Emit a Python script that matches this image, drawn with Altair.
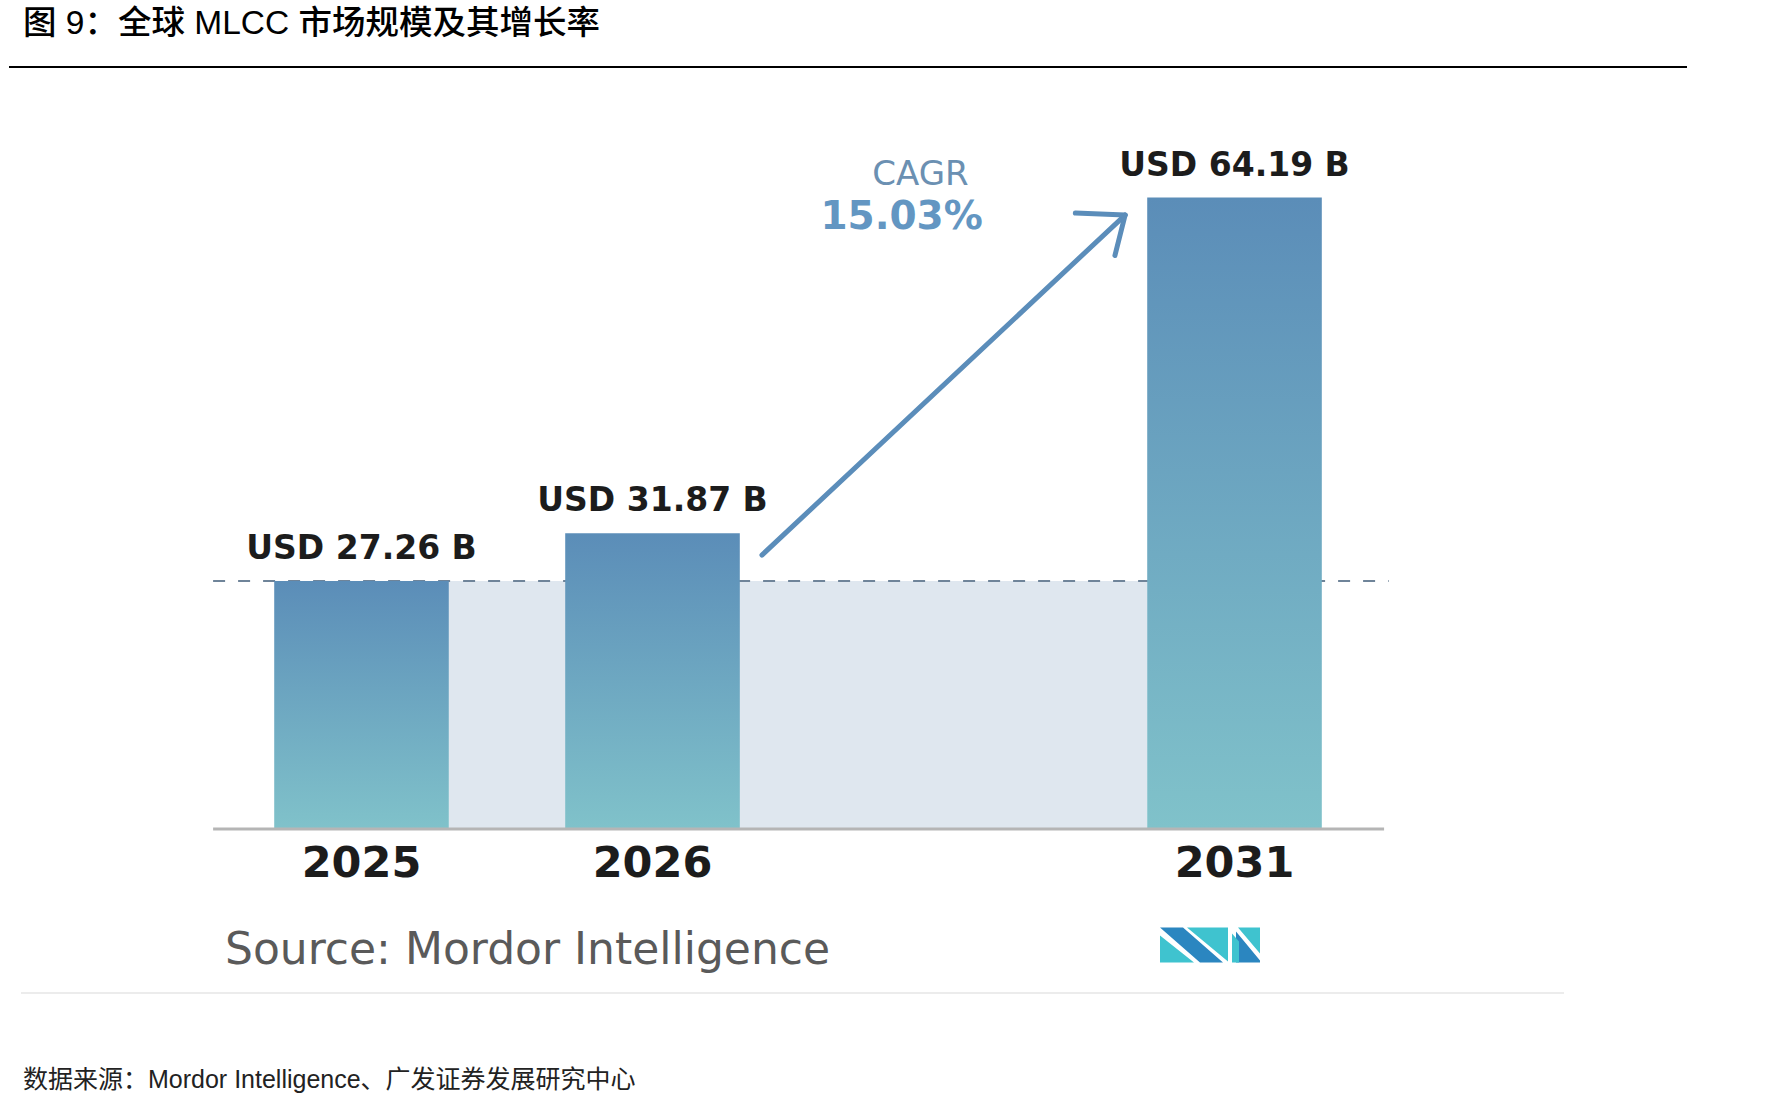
import altair as alt
import pandas as pd

# ---------------- data ----------------
years = ["2025", "2026", "2031"]
values = [27.26, 31.87, 64.19]          # USD billions
slots = [0, 1, 3]                        # layout slot of each bar (2026→2031 gap is wider)
cagr_title = "CAGR"
cagr_value = "15.03%"
title_text = "图 9：全球 MLCC 市场规模及其增长率"
source_text = "Source: Mordor Intelligence"
footer_text = "数据来源：Mordor Intelligence、广发证券发展研究中心"

# arrow annotation (slot units, value units)
arrow_tail = (1.376, 29.76)
arrow_tip = (2.624, 62.50)
arrow_head_a = (2.453, 62.69)
arrow_head_b = (2.589, 58.60)
cagr_pos = (1.921, 66.4)
cagr_val_pos = (1.856, 62.3)

# ---------------- layout constants ----------------
W, H = 1790, 1109
X_DOMAIN = [-1.2423, 4.9089]
Y_DOMAIN = [-23.58, 83.21]
BASE = 3.38            # value at the drawn baseline
HALF = 0.30            # half bar width in slot units
AXIS_LEFT, AXIS_RIGHT = -0.51, 3.514
DASH_RIGHT = 3.53

df = pd.DataFrame({
    "year": years,
    "value": values,
    "slot": slots,
})
df["left"] = df["slot"] - HALF
df["right"] = df["slot"] + HALF
df["label"] = ["USD %.2f B" % v for v in values]
df["base"] = BASE

xs = alt.Scale(domain=X_DOMAIN, nice=False, zero=False)
ys = alt.Scale(domain=Y_DOMAIN, nice=False, zero=False)

def X(field):
    return alt.X(field, type="quantitative", scale=xs, axis=None)

def Y(field):
    return alt.Y(field, type="quantitative", scale=ys, axis=None)

# light band between 2025 and 2031 up to the 2025 level
band_df = pd.DataFrame({"x": [slots[0] + HALF], "x2": [slots[2] - HALF],
                        "y": [values[0]], "y2": [BASE]})
band = alt.Chart(band_df).mark_rect(color="#dfe7ef").encode(
    x=X("x"), x2="x2", y=Y("y"), y2="y2")

# dashed reference line at the 2025 level
dash_df = pd.DataFrame({"x": [AXIS_LEFT], "x2": [DASH_RIGHT], "y": [values[0]]})
dash = alt.Chart(dash_df).mark_rule(color="#6f8499", strokeWidth=2, strokeDash=[12, 13]).encode(
    x=X("x"), x2="x2", y=Y("y"))

grad = alt.LinearGradient(
    gradient="linear",
    stops=[alt.GradientStop(color="#5b8db8", offset=0),
           alt.GradientStop(color="#80c2ca", offset=1)],
    x1=0, x2=0, y1=0, y2=1)

bars = alt.Chart(df).mark_bar(color=grad).encode(
    x=X("left"), x2="right", y=Y("value"), y2="base")

# baseline
base_df = pd.DataFrame({"x": [AXIS_LEFT], "x2": [AXIS_RIGHT], "y": [BASE]})
baseline = alt.Chart(base_df).mark_rule(color="#b5b5b5", strokeWidth=3).encode(
    x=X("x"), x2="x2", y=Y("y"))

value_labels = alt.Chart(df).mark_text(
    font="DejaVu Sans", fontWeight="bold", fontSize=33, color="#1c1c1c",
    baseline="middle", dy=-32).encode(x=X("slot"), y=Y("value"), text="label:N")

year_labels = alt.Chart(df).mark_text(
    font="DejaVu Sans", fontWeight="bold", fontSize=43, color="#1c1c1c",
    baseline="middle").encode(x=X("slot"), y=alt.value(864), text="year:N")

# arrow
seg_df = pd.DataFrame({
    "x": [arrow_tail[0], arrow_head_a[0], arrow_head_b[0]],
    "y": [arrow_tail[1], arrow_head_a[1], arrow_head_b[1]],
    "x2": [arrow_tip[0]] * 3,
    "y2": [arrow_tip[1]] * 3,
})
arrow = alt.Chart(seg_df).mark_rule(color="#5b8dba", strokeWidth=5, strokeCap="round").encode(
    x=X("x"), x2="x2", y=Y("y"), y2="y2")

cagr_df = pd.DataFrame({"x": [cagr_pos[0], cagr_val_pos[0]],
                        "y": [cagr_pos[1], cagr_val_pos[1]],
                        "t": [cagr_title, cagr_value],
                        "k": ["a", "b"]})
cagr_t = alt.Chart(cagr_df[cagr_df.k == "a"]).mark_text(
    font="DejaVu Sans", fontSize=34, color="#6b90b2", baseline="middle").encode(
    x=X("x"), y=Y("y"), text="t:N")
cagr_v = alt.Chart(cagr_df[cagr_df.k == "b"]).mark_text(
    font="DejaVu Sans", fontWeight="bold", fontSize=39, color="#6396c2", baseline="middle").encode(
    x=X("x"), y=Y("y"), text="t:N")

one = pd.DataFrame({"t": [0]})

source = alt.Chart(one).mark_text(
    text=source_text, font="DejaVu Sans", fontSize=44, color="#5a5a5a",
    align="left", baseline="middle").encode(x=alt.value(225), y=alt.value(951))

# logo (custom symbol paths, unit box -1..1 = 100px)
def poly(pts):
    s = []
    for i, (lx, ly) in enumerate(pts):
        s.append(("M" if i == 0 else "L") + "%.3f,%.3f" % ((lx - 50) / 50, (ly - 17.5) / 50))
    return " ".join(s) + " Z"

dark_path = " ".join([poly([(0, 0), (23, 0), (63, 35), (40, 35)]),
                      poly([(76, 4), (100, 33), (100, 35), (76, 35)])])
teal_path = " ".join([poly([(0, 8), (0, 35), (34, 35)]),
                      poly([(27, 0), (68, 0), (68, 34)]),
                      poly([(72, 6), (79, 14), (79, 35), (72, 35)]),
                      poly([(78, 0), (100, 0), (100, 26)])])
logo_dark = alt.Chart(one).mark_point(shape=dark_path, size=10000, filled=True,
                                      color="#2b86c0", opacity=1, strokeWidth=0).encode(
    x=alt.value(1210), y=alt.value(945))
logo_teal = alt.Chart(one).mark_point(shape=teal_path, size=10000, filled=True,
                                      color="#3fc3cf", opacity=1, strokeWidth=0).encode(
    x=alt.value(1210), y=alt.value(945))

sep = alt.Chart(one).mark_rule(color="#ececec", strokeWidth=2).encode(
    x=alt.value(21), x2=alt.value(1564), y=alt.value(993))

title = alt.Chart(one).mark_text(
    text=title_text, font="Liberation Sans, Noto Sans CJK SC", fontSize=33.5, fontWeight=500,
    color="#000000", align="left", baseline="middle").encode(x=alt.value(23), y=alt.value(24))
title_rule = alt.Chart(one).mark_rule(color="#000000", strokeWidth=2).encode(
    x=alt.value(9), x2=alt.value(1687), y=alt.value(67))

footer = alt.Chart(one).mark_text(
    text=footer_text, font="Liberation Sans, Noto Sans CJK SC", fontSize=25,
    color="#222222", align="left", baseline="middle").encode(x=alt.value(23), y=alt.value(1080))

chart = alt.layer(
    band, dash, bars, baseline, value_labels, year_labels, arrow, cagr_t, cagr_v,
    source, logo_dark, logo_teal, sep, title, title_rule, footer
).properties(
    width=W, height=H, padding=0,
    autosize=alt.AutoSizeParams(type="none"),
    background="#ffffff",
).configure_view(stroke=None)

chart.save("out.html", embed_options={"renderer": "svg", "actions": False})
